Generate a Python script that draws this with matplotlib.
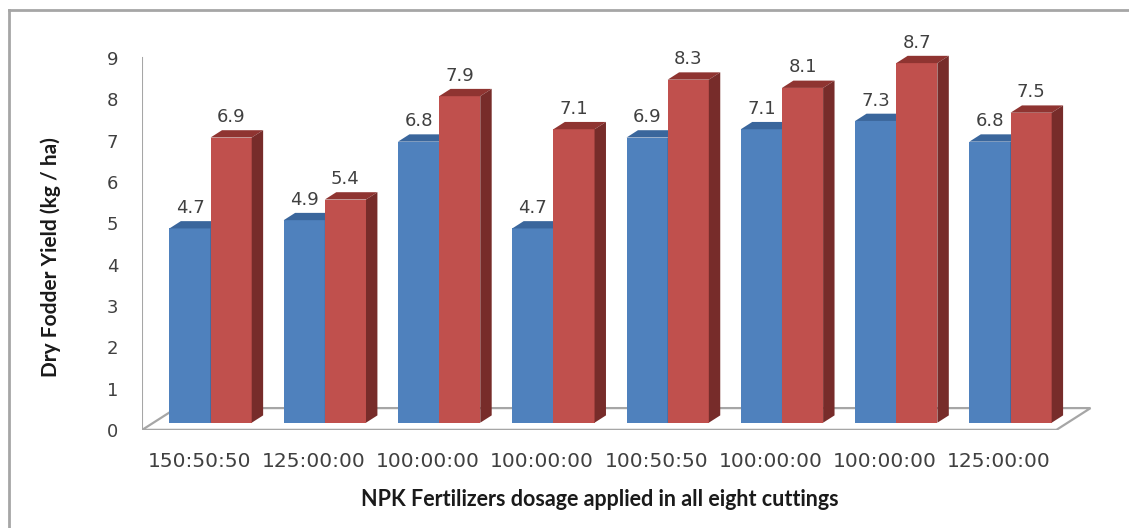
import matplotlib
matplotlib.use("Agg")
import matplotlib.pyplot as plt
from matplotlib.patches import Polygon
from matplotlib.lines import Line2D

# NPK dosage for each of the eight cuttings
categories = ["150:50:50", "125:00:00", "100:00:00", "100:00:00",
              "100:50:50", "100:00:00", "100:00:00", "125:00:00"]
# Dry fodder yield, two series per cutting
series_a = [4.7, 4.9, 6.8, 4.7, 6.9, 7.1, 7.3, 6.8]
series_b = [6.9, 5.4, 7.9, 7.1, 8.3, 8.1, 8.7, 7.5]
y_ticks = [0, 1, 2, 3, 4, 5, 6, 7, 8, 9]

blue_front, blue_top, blue_side = "#4F81BD", "#3A669C", "#2F5485"
red_front, red_top, red_side = "#C0504D", "#8F3431", "#772C2A"
grid_grey = "#A6A6A6"
text_grey = "#404040"

W, H = 1129, 528
fig = plt.figure(figsize=(W / 100, H / 100), dpi=100)
fig.patch.set_facecolor("white")

ax = fig.add_axes([142 / W, (H - 430) / H, (1100 - 142) / W, 390 / H])
ax.set_xlim(-0.5, 7.883)
ax.set_ylim(0, 9.436)
for s in ax.spines.values():
    s.set_visible(False)

# floor depth (category units, value units) for the pseudo-3D look
DX, DY = 0.30, 0.53
x0, x1 = -0.5, 7.5
floor = Polygon([(x0, 0), (x1, 0), (x1 + DX, DY), (x0 + DX, DY)],
                closed=True, fill=False, edgecolor=grid_grey, lw=1.6, zorder=1)
ax.add_patch(floor)
ax.plot([x0, x1], [0, 0], color=grid_grey, lw=2.4, zorder=1,
        solid_capstyle="butt")
ax.plot([x0, x0], [0, 9], color=grid_grey, lw=1.5, zorder=1)

bar_w = 0.36
fx, fy = DX / 3, DY / 3          # bars stand in the middle third of the floor
bx, by = DX / 3, DY / 3          # bar depth


def draw_series(offset, values, front, top, side, z):
    xs = [i + fx + offset for i in range(len(values))]
    bars = ax.bar(xs, values, width=bar_w, bottom=fy, color=front,
                  align="edge", zorder=z, linewidth=0)
    for rect, v in zip(bars, values):
        xl = rect.get_x()
        xr = xl + rect.get_width()
        yb = rect.get_y()
        yt = yb + v
        ax.add_patch(Polygon([(xl, yt), (xr, yt), (xr + bx, yt + by),
                              (xl + bx, yt + by)], closed=True,
                             facecolor=top, edgecolor="none", zorder=z))
        ax.add_patch(Polygon([(xr, yb), (xr + bx, yb + by),
                              (xr + bx, yt + by), (xr, yt)], closed=True,
                             facecolor=side, edgecolor="none", zorder=z))
        ax.annotate(f"{v:.1f}", (xl + rect.get_width() / 2, yt + by),
                    xytext=(0, 3), textcoords="offset points",
                    ha="center", va="bottom", fontsize=13, color=text_grey)


draw_series(-bar_w, series_a, blue_front, blue_top, blue_side, 2)
draw_series(0.0, series_b, red_front, red_top, red_side, 3)

ax.set_yticks(y_ticks)
ax.set_yticklabels([str(t) for t in y_ticks], fontsize=13, color=text_grey)
ax.set_xticks(range(len(categories)))
ax.set_xticklabels(categories, fontsize=14.5, color=text_grey)
ax.tick_params(axis="y", length=0, pad=17)
ax.tick_params(axis="x", length=0, pad=16)

fig.text(51 / W, 1 - 257 / H, "Dry Fodder Yield (kg / ha)", rotation=90,
         ha="center", va="center", fontsize=15, fontweight="bold",
         family="Lato", color="#1a1a1a")
fig.text(600 / W, 1 - 499 / H,
         "NPK Fertilizers dosage applied in all eight cuttings",
         ha="center", va="center", fontsize=15.5, fontweight="bold",
         family="Lato", color="#1a1a1a")

# chart frame
fig.add_artist(Line2D([9 / W, 1.0], [1 - 10 / H, 1 - 10 / H],
                      color=grid_grey, lw=2, transform=fig.transFigure))
fig.add_artist(Line2D([9 / W, 9 / W], [0, 1 - 10 / H],
                      color=grid_grey, lw=2, transform=fig.transFigure))

fig.savefig("out.png", dpi=100, facecolor="white")
